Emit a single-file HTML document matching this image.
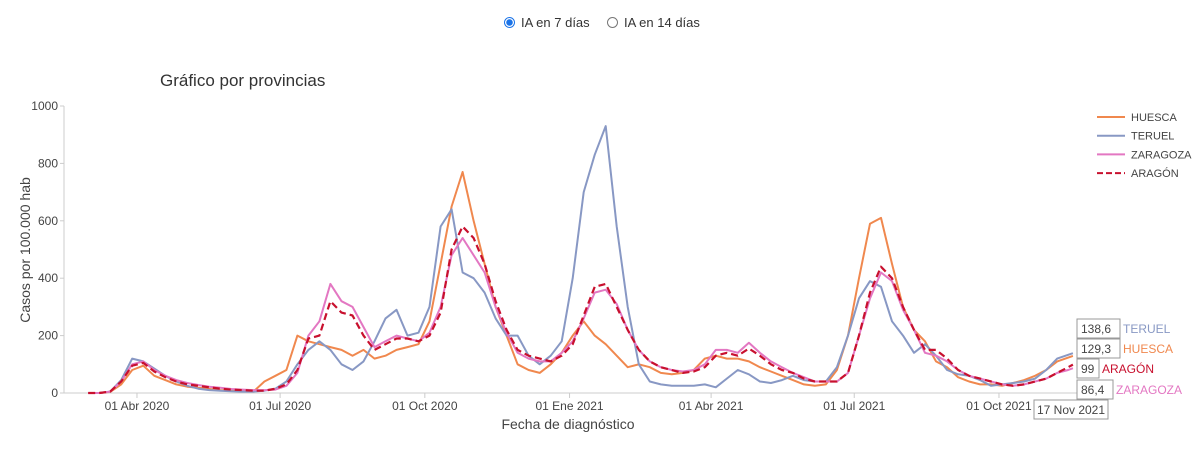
<!DOCTYPE html>
<html><head><meta charset="utf-8"><style>
body{margin:0;background:#fff;font-family:"Liberation Sans",sans-serif;}
#wrap{position:relative;width:1200px;height:471px;overflow:hidden;}
.radio{position:absolute;top:15px;font-size:13px;color:#333;display:flex;align-items:center;}
.dot{width:11px;height:11px;border-radius:50%;border:1px solid #777;margin-right:6px;box-sizing:border-box;}
.dot.on{border:1px solid #1a73e8;background:radial-gradient(circle,#1a73e8 0 3px,#fff 3.5px);}
</style></head><body>
<div id="wrap">
<div class="radio" style="left:504px"><span class="dot on"></span>IA en 7 días</div>
<div class="radio" style="left:607px"><span class="dot"></span>IA en 14 días</div>
<svg id="chart" width="1200" height="471" style="position:absolute;left:0;top:0"></svg>
</div>
<script>
const startDate = "2020-03-01";
const lastDay = 626;
const yTicks = [0,200,400,600,800,1000];
const xTickLabels = ["01 Abr 2020","01 Jul 2020","01 Oct 2020","01 Ene 2021","01 Abr 2021","01 Jul 2021","01 Oct 2021"];
const xTickDays = [31,122,214,306,396,487,579];
const seriesNames = ["HUESCA","TERUEL","ZARAGOZA","ARAGÓN"];
const huesca = [0,0,4,30,80,95,60,45,30,22,18,14,10,8,6,5,40,60,80,200,180,170,160,150,130,150,120,130,150,160,170,250,450,650,770,600,450,300,200,100,80,70,100,140,200,250,200,170,130,90,100,90,70,65,70,80,120,130,120,120,110,90,75,60,45,30,25,30,80,200,400,590,610,450,300,220,180,110,90,55,40,30,30,25,35,45,60,80,110,129.3];
const teruel = [0,0,5,45,120,110,85,60,40,25,15,10,8,6,5,5,8,15,40,100,150,180,150,100,80,110,180,260,290,200,210,300,580,640,420,400,350,260,200,200,130,100,130,180,400,700,830,930,580,300,100,40,30,25,25,25,30,20,50,80,65,40,35,45,60,45,40,40,90,200,330,390,370,250,200,140,170,130,80,65,60,45,25,30,35,40,50,80,120,138.6];
const zaragoza = [0,0,5,40,100,110,80,60,45,35,28,22,18,14,12,10,10,12,25,70,200,250,380,320,300,230,160,180,200,190,180,210,300,480,540,480,420,300,210,140,120,110,110,140,180,260,350,360,310,220,150,110,90,80,75,80,100,150,150,140,175,140,110,90,70,55,40,40,40,70,200,330,420,390,290,220,140,130,110,80,60,50,40,30,25,30,40,50,70,80,86.4];
const aragon = [0,0,5,40,95,105,75,55,40,30,25,20,15,12,10,8,8,15,30,80,190,200,320,280,270,200,150,170,190,190,180,200,280,500,580,540,450,320,220,150,130,120,110,130,170,270,370,380,300,220,150,110,90,80,70,75,90,130,140,130,155,130,100,80,70,50,40,40,40,70,200,350,440,400,300,220,150,150,120,80,60,50,40,30,25,30,40,50,70,90,99];
const colors = ["#f0884e","#8898c4","#e377c2","#c8102e"];
const seriesData = [huesca,teruel,zaragoza,aragon];

const svg = document.getElementById('chart');
const NS = "http://www.w3.org/2000/svg";
function xs(d){return 88.2 + d*1.5730;}
function ys(v){return 393 - v*0.287;}
function dayOf(i,len){return i===len-1 ? lastDay : i*7;}
function mk(tag,attrs,txt){const e=document.createElementNS(NS,tag);for(const k in attrs)e.setAttribute(k,attrs[k]);if(txt!==undefined)e.textContent=txt;svg.appendChild(e);return e;}

let t = mk('text',{x:160,y:86,'font-size':17,fill:'#333'},'Gráfico por provincias');


let ax = mk('line',{x1:64,y1:106,x2:64,y2:393,stroke:'#ccc'});


let axx = mk('line',{x1:64,y1:393,x2:1092,y2:393,stroke:'#ccc'});


yTicks.forEach(v=>{
  const tk = mk('line',{x1:60,x2:64,y1:ys(v),y2:ys(v),stroke:'#ccc'});
  
  
  const l = mk('text',{x:58,y:ys(v)+4,'font-size':12,fill:'#444','text-anchor':'end'},String(v));
  
  
});
xTickDays.forEach((d,i)=>{
  const tk = mk('line',{x1:xs(d),x2:xs(d),y1:393,y2:398,stroke:'#ccc'});
  
  
  const l = mk('text',{x:xs(d),y:410,'font-size':12,fill:'#444','text-anchor':'middle'},xTickLabels[i]);
  
  
});
let yt = mk('text',{x:30,y:250,'font-size':14,fill:'#444','text-anchor':'middle',transform:'rotate(-90 30 250)'},'Casos por 100.000 hab');


let xt = mk('text',{x:568,y:429,'font-size':14,fill:'#444','text-anchor':'middle'},'Fecha de diagnóstico');



seriesData.forEach((arr,s)=>{
  const pts = arr.map((v,i)=>xs(dayOf(i,arr.length)).toFixed(1)+','+ys(v).toFixed(1)).join(' ');
  const p = mk('polyline',{points:pts,fill:'none',stroke:colors[s],'stroke-width':s===3?2.2:2,'stroke-dasharray':s===3?'7,4':'none','stroke-linejoin':'round'});
  
  
});

seriesNames.forEach((n,i)=>{
  const y = 117 + i*18.7;
  const l = mk('line',{x1:1097,x2:1125,y1:y,y2:y,stroke:colors[i],'stroke-width':2,'stroke-dasharray':i===3?'6,3':'none'});
  
  
  const tx = mk('text',{x:1131,y:y+4,'font-size':11,fill:'#444'},n);
  
  
});

const hoverOrder = [1,0,3,2];
const hoverY = [329,349,369,390];
hoverOrder.forEach((s,k)=>{
  const arr = seriesData[s];
  const v = arr[arr.length-1];
  const txt = String(v).replace('.',',');
  const y = hoverY[k];
  const w = txt.length*7+8;
  const r = mk('rect',{x:1077,y:y-10,width:w,height:19,fill:'#fff',stroke:'#999'});
  
  
  const a = mk('text',{x:1081,y:y+4,'font-size':12,fill:'#444'},txt);
  
  
  const b = mk('text',{x:1077+w+3,y:y+4,'font-size':12,fill:colors[s]},seriesNames[s]);
  
  
});
const dr = mk('rect',{x:1034,y:400,width:74,height:19,fill:'#fff',stroke:'#999'});


const dt = mk('text',{x:1071,y:414,'font-size':12,fill:'#444','text-anchor':'middle'},'17 Nov 2021');


</script>
</body></html>
